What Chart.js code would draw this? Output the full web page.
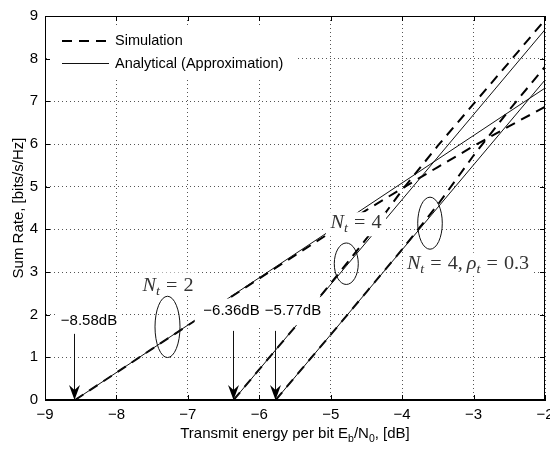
<!DOCTYPE html>
<html>
<head>
<meta charset="utf-8">
<script src="https://cdn.jsdelivr.net/npm/chart.js@4.4.0/dist/chart.umd.min.js"></script>
<style>
  html, body { margin: 0; padding: 0; background: #fff; }
</style>
</head>
<body>
<canvas id="rateChart" width="550" height="450"></canvas>
<script>
// --- DATA ---
const xTicks = [-9, -8, -7, -6, -5, -4, -3, -2];
const yTicks = [0, 1, 2, 3, 4, 5, 6, 7, 8, 9];

// Nt = 2
const simX2 = [-8.58, -8, -7.5, -7, -6.5, -6, -5.5, -5, -4.5, -4, -3.5, -3, -2.5, -2];
const simY2 = [0, 0.64, 1.2, 1.75, 2.3, 2.85, 3.39, 3.93, 4.45, 4.96, 5.46, 5.95, 6.42, 6.87];
const anaX2 = [-8.58, -2];
const anaY2 = [0, 7.31];

// Nt = 4
const simX4 = [-6.36, -6, -5.5, -5, -4.5, -4, -3.5, -3, -2.5, -2];
const simY4 = [0, 0.72, 1.71, 2.73, 3.78, 4.92, 5.96, 6.94, 7.92, 8.91];
const anaX4 = [-6.36, -2];
const anaY4 = [0, 8.68];

// Nt = 4, rho_t = 0.3
const simXr = [-5.77, -5.5, -5, -4.5, -4, -3.5, -3, -2.5, -2];
const simYr = [0, 0.54, 1.53, 2.53, 3.53, 4.58, 5.73, 6.8, 7.81];
const anaXr = [-5.77, -2];
const anaYr = [0, 7.50];

// minimum Eb/N0 markers (dB) and where their arrows start
const minLabels = ['\u22128.58dB', '\u22126.36dB', '\u22125.77dB'];
const minX = [-8.58, -6.36, -5.77];
const arrowTop = [1.55, 1.62, 1.62];

const SANS = '"Liberation Sans", Arial, sans-serif';
const SERIF = '"Liberation Serif", "Times New Roman", serif';

function pts(xs, ys) { return xs.map((x, i) => ({ x: x, y: ys[i] })); }
function fmt(v) { return v < 0 ? '\u2212' + Math.abs(v) : String(v); }

const simStyle = { borderColor: '#000', borderWidth: 2, borderDash: [10, 7], showLine: true, pointRadius: 0, fill: false };
const anaStyle = { borderColor: '#111', borderWidth: 1, showLine: true, pointRadius: 0, fill: false };

// draws "N_t = 4" style math text centred at (cx, cy), a bit stretched like CM fonts
function drawMath(ctx, parts, cx, cy, size) {
    const sx = 1.12;
    let w = 0;
    const items = parts.map(p => {
        if (p.sp) { w += p.sp * size; return { sp: p.sp * size }; }
        const fs = p.sub ? size * 0.7 : size;
        const font = (p.it ? 'italic ' : '') + fs + 'px ' + SERIF;
        ctx.font = font;
        const m = ctx.measureText(p.t).width;
        w += m;
        return { t: p.t, sub: p.sub, font: font, m: m };
    });
    ctx.save();
    ctx.translate(cx, cy);
    ctx.scale(sx, 1);
    let x = -w / 2;
    const base = size * 0.33;
    ctx.textAlign = 'left';
    ctx.textBaseline = 'alphabetic';
    items.forEach(it => {
        if (it.sp) { x += it.sp; return; }
        ctx.font = it.font;
        ctx.fillText(it.t, x, it.sub ? base + size * 0.24 : base);
        x += it.m;
    });
    ctx.restore();
}

// --- ANNOTATIONS: legend, labels, ellipses, arrows, frame ---
const annotPlugin = {
    id: 'annot',
    afterDatasetsDraw(chart) {
        const { ctx, chartArea: a, scales: { x, y } } = chart;
        const px = v => x.getPixelForValue(v);
        const py = v => y.getPixelForValue(v);
        ctx.save();

        // white boxes for labels
        const boxes = [
            { x: -8.384, y: 1.85, w: 62, h: 18 },
            { x: -6.40, y: 2.083, w: 72, h: 25 },
            { x: -5.528, y: 2.083, w: 72, h: 28 },
            { x: -7.278, y: 2.731, w: 56, h: 22 },
            { x: -4.646, y: 4.12, w: 60, h: 24 },
            { x: -3.078, y: 3.194, w: 126, h: 22 }
        ];
        ctx.fillStyle = '#fff';
        boxes.forEach(b => ctx.fillRect(px(b.x) - b.w / 2, py(b.y) - b.h / 2, b.w, b.h));

        // dB labels
        ctx.fillStyle = '#000';
        ctx.font = '15px ' + SANS;
        ctx.textAlign = 'center';
        ctx.textBaseline = 'middle';
        ctx.fillText(minLabels[0], px(-8.384), py(1.85));
        ctx.fillText(minLabels[1], px(-6.389), py(2.083));
        ctx.fillText(minLabels[2], px(-5.528), py(2.083));

        // math labels
        ctx.fillStyle = '#333';
        drawMath(ctx, [{ t: 'N', it: true }, { t: 't', it: true, sub: true }, { sp: 0.3 }, { t: '=' }, { sp: 0.3 }, { t: '2' }], px(-7.278), py(2.70), 18);
        drawMath(ctx, [{ t: 'N', it: true }, { t: 't', it: true, sub: true }, { sp: 0.3 }, { t: '=' }, { sp: 0.3 }, { t: '4' }], px(-4.646), py(4.17), 18);
        drawMath(ctx, [{ t: 'N', it: true }, { t: 't', it: true, sub: true }, { sp: 0.3 }, { t: '=' }, { sp: 0.3 }, { t: '4,' }, { sp: 0.2 },
            { t: '\u03c1', it: true }, { t: 't', it: true, sub: true }, { sp: 0.3 }, { t: '=' }, { sp: 0.3 }, { t: '0.3' }], px(-3.078), py(3.22), 18);

        // ellipses
        const ells = [
            { x: -7.285, y: 1.713, rx: 0.175, ry: 0.718 },
            { x: -4.782, y: 3.194, rx: 0.168, ry: 0.486 },
            { x: -3.61, y: 4.144, rx: 0.172, ry: 0.61 }
        ];
        ctx.strokeStyle = '#111';
        ctx.lineWidth = 1;
        ells.forEach(e => {
            ctx.beginPath();
            ctx.ellipse(px(e.x), py(e.y), px(e.x + e.rx) - px(e.x), py(e.y) - py(e.y + e.ry), 0, 0, Math.PI * 2);
            ctx.stroke();
        });

        // arrows down to the x axis
        minX.forEach((v, i) => {
            const ax = Math.round(px(v)) - 0.5, y0 = py(arrowTop[i]), y1 = py(0);
            ctx.beginPath();
            ctx.moveTo(ax, y0);
            ctx.lineTo(ax, y1 - 8);
            ctx.stroke();
            ctx.beginPath();
            ctx.moveTo(ax, y1);
            ctx.lineTo(ax - 5.5, y1 - 15);
            ctx.lineTo(ax, y1 - 10);
            ctx.lineTo(ax + 5.5, y1 - 15);
            ctx.closePath();
            ctx.fillStyle = '#000';
            ctx.fill();
        });

        // legend (inside, top left)
        ctx.fillStyle = '#fff';
        ctx.fillRect(48, 27, 247, 53);
        ctx.strokeStyle = '#000';
        ctx.lineWidth = 2;
        ctx.setLineDash([10, 7]);
        ctx.beginPath(); ctx.moveTo(62, 41); ctx.lineTo(109, 41); ctx.stroke();
        ctx.setLineDash([]);
        ctx.lineWidth = 1;
        ctx.strokeStyle = '#111';
        ctx.beginPath(); ctx.moveTo(62, 63.5); ctx.lineTo(109, 63.5); ctx.stroke();
        ctx.fillStyle = '#000';
        ctx.font = '14.5px ' + SANS;
        ctx.textAlign = 'left';
        ctx.textBaseline = 'middle';
        ctx.fillText('Simulation', 115, 41);
        ctx.fillText('Analytical (Approximation)', 115, 64);

        // frame + inward ticks
        ctx.strokeStyle = '#000';
        ctx.lineWidth = 1;
        ctx.strokeRect(Math.round(a.left) + 0.5, Math.round(a.top) + 0.5, Math.round(a.right - a.left) - 1, Math.round(a.bottom - a.top) - 1);
        ctx.beginPath();
        xTicks.forEach(v => {
            const tx = Math.round(px(v)) + 0.5;
            ctx.moveTo(tx, a.bottom); ctx.lineTo(tx, a.bottom - 5);
            ctx.moveTo(tx, a.top); ctx.lineTo(tx, a.top + 5);
        });
        yTicks.forEach(v => {
            const ty = Math.round(py(v)) + 0.5;
            ctx.moveTo(a.left, ty); ctx.lineTo(a.left + 5, ty);
            ctx.moveTo(a.right, ty); ctx.lineTo(a.right - 5, ty);
        });
        ctx.stroke();

        // axis titles
        ctx.fillStyle = '#000';
        ctx.textBaseline = 'alphabetic';
        const parts = [['Transmit energy per bit E', 0], ['b', 1], ['/N', 0], ['0', 1], [', [dB]', 0]];
        let tw = 0;
        parts.forEach(p => { ctx.font = (p[1] ? '10.5px ' : '15px ') + SANS; tw += ctx.measureText(p[0]).width; });
        let tx = (a.left + a.right) / 2 - tw / 2;
        parts.forEach(p => {
            ctx.font = (p[1] ? '10.5px ' : '15px ') + SANS;
            ctx.fillText(p[0], tx, p[1] ? 442 : 438);
            tx += ctx.measureText(p[0]).width;
        });
        ctx.save();
        ctx.translate(23, (a.top + a.bottom) / 2);
        ctx.rotate(-Math.PI / 2);
        ctx.font = '15px ' + SANS;
        ctx.textAlign = 'center';
        ctx.fillText('Sum Rate, [bits/s/Hz]', 0, 0);
        ctx.restore();

        ctx.restore();
    }
};

function init() {
    const ctx = document.getElementById('rateChart').getContext('2d');
    new Chart(ctx, {
        type: 'scatter',
        data: {
            datasets: [
                Object.assign({ label: 'Analytical Nt=2', data: pts(anaX2, anaY2) }, anaStyle),
                Object.assign({ label: 'Analytical Nt=4', data: pts(anaX4, anaY4) }, anaStyle),
                Object.assign({ label: 'Analytical Nt=4 rho', data: pts(anaXr, anaYr) }, anaStyle),
                Object.assign({ label: 'Simulation Nt=2', data: pts(simX2, simY2) }, simStyle),
                Object.assign({ label: 'Simulation Nt=4', data: pts(simX4, simY4) }, simStyle),
                Object.assign({ label: 'Simulation Nt=4 rho', data: pts(simXr, simYr) }, simStyle)
            ]
        },
        options: {
            responsive: false,
            animation: false,
            layout: { padding: { left: 0, right: 5, top: 11, bottom: 0 } },
            plugins: { legend: { display: false }, tooltip: { enabled: false } },
            scales: {
                x: {
                    type: 'linear', min: -9, max: -2,
                    afterBuildTicks: s => { s.ticks = xTicks.map(v => ({ value: v })); },
                    afterFit: s => { s.height = 50; s.paddingLeft = 0; s.paddingRight = 0; },
                    ticks: { padding: 6, color: '#000', maxRotation: 0, autoSkip: false, font: { family: SANS, size: 15 }, callback: v => fmt(v) },
                    grid: { color: '#555', drawTicks: false },
                    border: { display: true, color: '#000', dash: [1, 3] }
                },
                y: {
                    type: 'linear', min: 0, max: 9,
                    afterBuildTicks: s => { s.ticks = yTicks.map(v => ({ value: v })); },
                    afterFit: s => { s.width = 45; },
                    ticks: { padding: 7, color: '#000', autoSkip: false, font: { family: SANS, size: 15 }, callback: v => fmt(v) },
                    grid: { color: '#555', drawTicks: false },
                    border: { display: true, color: '#000', dash: [1, 3] }
                }
            }
        },
        plugins: [annotPlugin]
    });
}

window.onload = init;
</script>
</body>
</html>
